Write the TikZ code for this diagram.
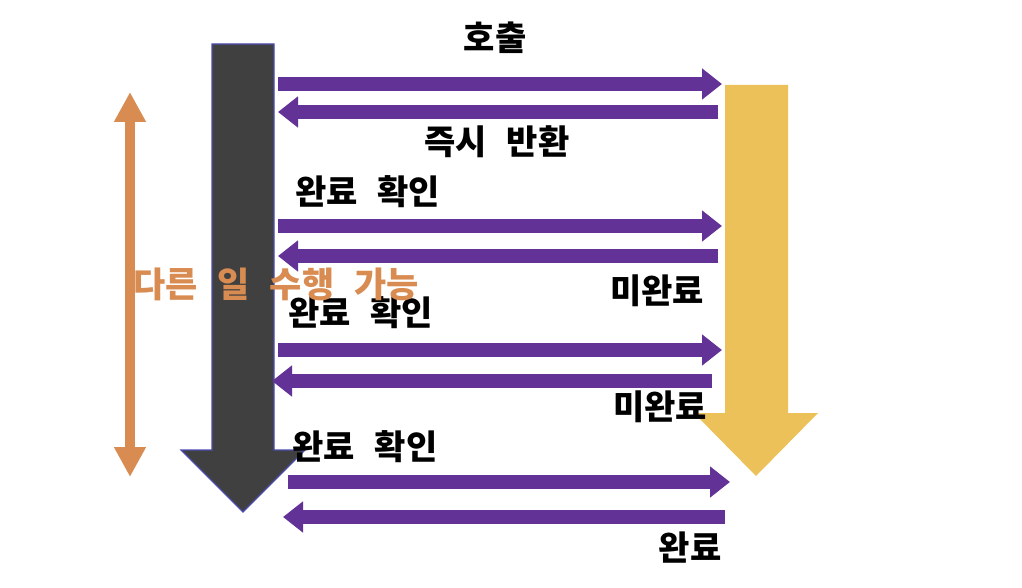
\documentclass[tikz,border=0pt]{standalone}
\usepackage{fontspec}
\newfontfamily\krfont{Noto Sans CJK KR}
\newfontfamily\krwidefont{Noto Sans CJK KR}[WordSpace=2.5]
\usepackage{tikz}
\usetikzlibrary{positioning, arrows.meta}
\definecolor{flowpurple}{RGB}{98, 50, 150}
\definecolor{callerdark}{RGB}{64, 64, 64}
\definecolor{calleeyellow}{RGB}{236, 193, 90}
\definecolor{spanorange}{RGB}{217, 140, 82}

\begin{document}
\begin{tikzpicture}[
  x=0.5pt, y=-0.5pt,
  font=\krfont\bfseries\fontsize{17}{20}\selectfont,
  flow/.style={draw=flowpurple, line width=7pt,
    -{Triangle[length=10pt, width=15pt]}},
  tag/.style={inner sep=0pt, text=black},
  caller/.style={fill=callerdark, draw=blue!40!gray, line width=0.6pt},
  callee/.style={fill=calleeyellow, draw=none},
  span/.style={draw=spanorange, line width=5pt,
    {Triangle[length=15pt, width=15pt]}-{Triangle[length=15pt, width=15pt]}}
]
\useasboundingbox (0,0) rectangle (1022,588);

% caller and callee timelines
\draw[caller] (212,44) -- (274,44) -- (274,450) -- (305,450) -- (243,512)
  -- (181,450) -- (212,450) -- cycle;
\draw[callee] (725,85) -- (788,85) -- (788,413) -- (818,413) -- (756,476)
  -- (694,413) -- (725,413) -- cycle;

% end points of the calls
\coordinate (a1) at (278,84);  \coordinate (b1) at (722,84);
\coordinate (b2) at (718,112); \coordinate (a2) at (278,112);
\coordinate (a3) at (278,226); \coordinate (b3) at (722,226);
\coordinate (b4) at (718,256); \coordinate (a4) at (278,256);
\coordinate (a5) at (278,350); \coordinate (b5) at (722,350);
\coordinate (b6) at (712,381); \coordinate (a6) at (272,381);
\coordinate (a7) at (288,482); \coordinate (b7) at (730,482);
\coordinate (b8) at (725,517); \coordinate (a8) at (283,517);

\draw[flow] (a1) -- (b1);
\draw[flow] (b2) -- (a2);
\draw[flow] (a3) -- (b3);
\draw[flow] (b4) -- (a4);
\draw[flow] (a5) -- (b5);
\draw[flow] (b6) -- (a6);
\draw[flow] (a7) -- (b7);
\draw[flow] (b8) -- (a8);

% free span
\coordinate (s1) at (130,92);
\coordinate (s2) at (130,477);
\draw[span] (s1) -- (s2);

\node[tag] (call) at (495,38) {호출};
\node[tag] (ret) at (497,142) {즉시 반환};
\node[tag] (chk1) at (368,192) {완료 확인};
\node[tag] (nd1) at (657,291) {미완료};
\node[tag] (chk2) at (361,313) {완료 확인};
\node[tag] (nd2) at (660,407) {미완료};
\node[tag] (chk3) at (365,447) {완료 확인};
\node[tag] (done) at (690,548) {완료};
\node[tag, text=spanorange,
  font=\krwidefont\bfseries\fontsize{17.5}{20}\selectfont]
  (free) at (276,284) {다른 일 수행 가능};
\end{tikzpicture}
\end{document}
